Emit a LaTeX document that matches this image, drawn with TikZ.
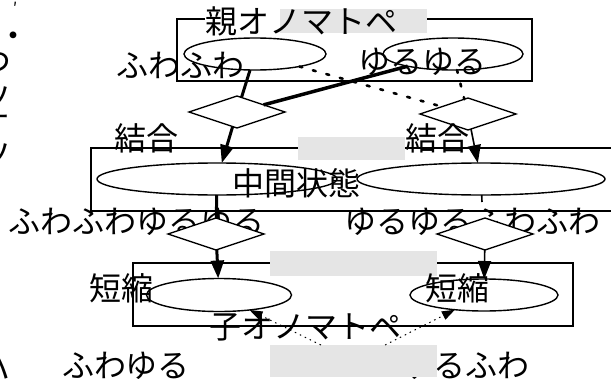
\documentclass[tikz,border=0pt]{standalone}
\usepackage{fontspec}
\setmainfont{Noto Sans CJK JP}
\usetikzlibrary{shapes.geometric,arrows.meta,calc}
\definecolor{lg}{RGB}{229,229,229}
\tikzset{
  jp/.style={font=\fontsize{32}{32}\selectfont, inner sep=0pt},
  cl/.style={draw, line width=1.5pt, inner sep=0pt},
  ell/.style={ellipse, draw, line width=1.4pt, inner sep=0pt, outer sep=0pt},
  dia/.style={diamond, draw, fill=white, line width=1.4pt, inner sep=0pt, outer sep=0pt, minimum width=96pt, minimum height=32pt},
  gbox/.style={fill=lg, inner sep=0pt, outer sep=0pt},
  thk/.style={line width=3pt},
  thn/.style={line width=1.6pt},
  arr/.style={-{Triangle[length=18pt,width=13pt]}},
  dts/.style={line width=2.6pt, line cap=round, dash pattern=on 3pt off 11pt},
  sdts/.style={line width=1pt, dash pattern=on 1.5pt off 4pt, -{Triangle[length=13pt,width=9pt]}},
}
\begin{document}
\begin{tikzpicture}[x=1pt,y=-1pt]
\useasboundingbox (0,0) rectangle (611,383);
% clipped left column
\node[jp, font=\fontsize{16}{16}\selectfont] (k0) at (15,8) {′};
\node[jp] (k1) at (14,40) {・};
\node[jp] (k2) at (-4,63) {つ};
\node[jp] (k3) at (-5,98) {ツ};
\node[jp] (k4) at (-5,122) {オ};
\node[jp] (k5) at (-5,155) {ツ};
\node[jp] (k6) at (-5,368) {ハ};
% clusters
\node[cl, minimum width=355pt, minimum height=62pt] (Ctop) at (354.5,50) {};
\node[cl, minimum width=524pt, minimum height=63pt] (Cmid) at (353,179.5) {};
\node[cl, minimum width=440pt, minimum height=63pt] (Cbot) at (353,294.5) {};
\fill[white] (205,10) rectangle (281,30);
\node[gbox, minimum width=147pt, minimum height=24pt] (G1) at (353.5,21) {};
\node[jp] (Ltop) at (301.5,21) {親オノマトペ};
% top nodes
\node[jp] (t1) at (180,65) {ふわふわ};
\node[jp] (t2) at (422,62) {ゆるゆる};
\node[ell, minimum width=142pt, minimum height=32pt] (E1) at (255,54) {};
\node[ell, minimum width=140pt, minimum height=32pt] (E2) at (453,54) {};
\node[dia] (D1) at (237,112) {};
\node[dia] (D2) at (468,114) {};
\node[jp] (j1) at (146,138) {結合};
\node[jp] (j2) at (437,138) {結合};
\node[gbox, minimum width=107pt, minimum height=23pt] (G2) at (351.5,148.5) {};
% middle
\node[ell, minimum width=240pt, minimum height=32pt] (E3) at (217,179) {};
\node[ell, minimum width=248pt, minimum height=32pt] (E4) at (481,179) {};
\node[jp] (m1) at (296,183) {中間状態};
\node[jp] (t3) at (137,222) {ふわふわゆるゆる};
\node[jp] (t4) at (472,222) {ゆるゆるふわふわ};
\node[dia] (D3) at (216,234) {};
\node[dia] (D4) at (485,234) {};
% bottom
\node[gbox, minimum width=167pt, minimum height=25pt] (G3) at (353.5,263.5) {};
\node[ell, minimum width=145pt, minimum height=33pt] (E5) at (219,295) {};
\node[ell, minimum width=148pt, minimum height=32pt] (E6) at (484,295) {};
\node[jp] (s1) at (121,288) {短縮};
\node[jp] (s2) at (457,288) {短縮};
\node[jp] (Lbot) at (305,327) {子オノマトペ};
\node[jp] (t5) at (126,366) {ふわゆる};
\node[jp] (t6) at (465,366) {ゆるふわ};
\node[gbox, minimum width=167pt, minimum height=32pt] (G4) at (353.5,361) {};
% edges
\draw[thk] (E1) -- (D1);
\draw[thk, line width=3.5pt] (E2) -- (D1);
\draw[dts] (E1) -- (D2);
\draw[dts] (E2) -- (D2);
\draw[thk, arr] (D1) -- (E3);
\draw[thn, arr] (D2) -- (E4);
\draw[thk] (E3) -- (D3);
\coordinate (s4) at (482,202);
\draw[thn] (E4) -- (s4);
\draw[thk, arr] (D3) -- (E5);
\draw[thn, arr] (D4) -- (E6);
\draw[sdts] (G4) -- (E5);
\draw[sdts] (G4) -- (E6);
\end{tikzpicture}
\end{document}
